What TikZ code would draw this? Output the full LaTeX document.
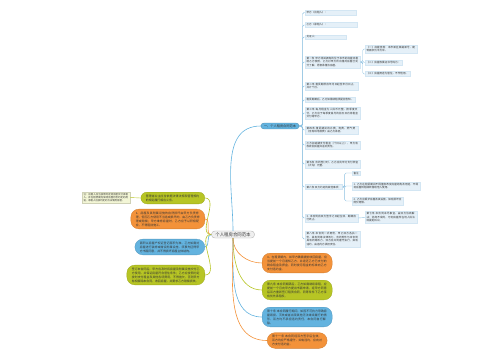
\documentclass[tikz,border=0pt]{standalone}
\usepackage{fontspec}
\setmainfont{Noto Sans CJK SC}
\XeTeXlinebreaklocale "zh"
\XeTeXlinebreakskip = 0pt plus 1pt
\usetikzlibrary{positioning, calc}
\definecolor{mmorange}{HTML}{F3923A}
\definecolor{mmgreen}{HTML}{B7C524}
\definecolor{mmblue}{HTML}{63B3DF}
\definecolor{mmleaf}{HTML}{E5F0F8}
\definecolor{mmline}{HTML}{8CC0E0}
\definecolor{mmnote}{HTML}{F3F6D6}
\definecolor{mmroot}{HTML}{EFEFEF}
\definecolor{mmtext}{HTML}{333333}

\begin{document}
\begin{tikzpicture}[x=1pt, y=-1pt,
    leafbox/.style={fill=mmleaf, draw=mmleaf!80!mmline, line width=0.2pt, anchor=west,
      align=left, inner xsep=1.5pt, inner ysep=1.2pt, text=mmtext,
      font=\fontsize{2.6}{3.5}\selectfont},
    bubble/.style={fill=#1, draw=#1!85!black, line width=0.3pt, rounded corners=8pt,
      align=left, inner xsep=5pt, inner ysep=2.5pt, text=mmtext,
      font=\fontsize{2.9}{4}\selectfont},
    twig/.style={draw=mmline, line width=0.4pt, rounded corners=1.5pt},
    limb/.style={draw=#1, line width=0.6pt}]
  \useasboundingbox (0,0) rectangle (500,360);

  % centre and main branch
  \node[fill=mmroot, draw=gray!55, rounded corners=3.5pt, inner xsep=4pt, inner ysep=1.5pt,
        text=mmtext, font=\fontsize{4.4}{5}\selectfont] (root) at (233,234.5) {个人租房合同范本};
  \node[fill=mmblue, draw=mmblue!80!black, rounded corners=3pt, inner xsep=3pt, inner ysep=1.5pt,
        text=mmtext, font=\fontsize{3.2}{4}\selectfont] (br) at (280,126) {一、个人租房合同范本};
  \coordinate (bj) at (302.5,126);

  % leaves of the main branch
  \node[leafbox, text width=48pt] (lf1) at (305,12.5) {甲方（出租人）：};
  \node[leafbox, text width=49pt] (lf2) at (305,25) {乙方（承租人）：};
  \node[leafbox, text width=38pt] (lf3) at (305,37) {见证人：};
  \node[leafbox, text width=52pt] (lf4) at (305,62) {第一条 甲方将其拥有的位于本市的房屋出租给乙方使用，乙方对甲方所出租的房屋已充分了解，愿意承租该房屋。};
  \node[leafbox, text width=50pt] (lf5) at (305,86) {第二条 租赁期限自年月日起至年月日止，共计个月。};
  \node[leafbox] (lf6) at (305,100) {租赁期满后，乙方如需续租须提前告知。};
  \node[leafbox, text width=52pt] (lf7) at (305,113) {第三条 每月租金为人民币元整，按季度支付，乙方应于每季度首月的前五日内将租金交付给甲方。};
  \node[leafbox, text width=50pt] (lf8) at (305,130) {第四条 租赁期间的水费、电费、燃气费（含有线电视费）由乙方承担。};
  \node[leafbox, text width=52pt] (lf9) at (305,145) {乙方如逾期支付租金（十日以上），甲方有权收回房屋并追究责任。};
  \node[leafbox, text width=52pt] (lf10) at (305,164) {第五条 合同签订时，乙方应向甲方支付押金（大写）元整。};
  \node[leafbox] (lf11) at (305,187) {第六条 双方约定的其他事项：};
  \node[leafbox, text width=50pt] (lf12) at (305,218) {3. 本合同自双方签字之日起生效，期满自行终止。};
  \node[leafbox, text width=52pt] (lf13) at (305,239) {第八条 本合同一式两份，甲乙双方各执一份，具有同等法律效力。合同附件与本合同具有同等效力，双方应共同遵守执行，如有违约，由违约方承担责任。};
  \foreach \n in {1,...,13}
    \draw[twig] (br.east) -- (bj) |- (lf\n.west);

  % second level
  \node[leafbox, text width=49pt] (s1) at (365,49) {（一）房屋坐落：本市某区某路某号，建筑面积为平方米。};
  \node[leafbox] (s2) at (365,62.5) {（二）房屋权属证书号码为：};
  \node[leafbox] (s3) at (365,74) {（三）房屋用途为居住，不作他用。};
  \coordinate (aj) at ($(lf4.east)+(2.5,0)$);
  \foreach \n in {1,2,3}
    \draw[twig] (lf4.east) -- (aj) |- (s\n.west);

  \node[leafbox] (t1) at (352,173) {备注};
  \node[leafbox, text width=65pt] (t2) at (352,186) {1. 乙方在租赁期间不得擅自改变房屋结构及用途，不得将房屋转租或转借给他人使用。};
  \node[leafbox, text width=48pt] (t3) at (352,201) {2. 乙方应爱护房屋及其设施，如有损坏应照价赔偿。};
  \coordinate (cj) at ($(lf11.east)+(2,0)$);
  \foreach \n in {1,2,3}
    \draw[twig] (lf11.east) -- (cj) |- (t\n.west);

  \node[leafbox, text width=49pt] (u1) at (365,217.5) {第七条 本合同未尽事宜，由双方协商解决；协商不成的，可向房屋所在地人民法院提起诉讼。};
  \draw[twig] (lf12.east) -- (u1.west);

  % left side
  \node[bubble=mmgreen, rounded corners=6pt, text width=54pt, anchor=east] (l1) at (205,198) {管理者业主应当依据法律法规和管理规约的规定履行相应义务。};
  \node[bubble=mmorange, text width=64pt, anchor=east] (l2) at (205,219) {1、房屋及其附属设施的自然损坏由甲方负责修理，但因乙方使用不当造成损坏的，由乙方负责修理或赔偿；甲方维修房屋时，乙方应予以积极配合，不得阻挠施工。};
  \node[bubble=mmblue, text width=60pt, anchor=east] (l3) at (205,247) {面积以房屋产权证登记面积为准。乙方如需对房屋进行装修或增设附属设施，须事先征得甲方书面同意，并不得损坏房屋主体结构。};
  \node[bubble=mmgreen, text width=68pt, anchor=east] (l4) at (205,275) {签订本合同后，甲方应及时将房屋及附属设施交付乙方使用，并保证房屋符合居住条件；乙方应按照约定按时支付租金及其他各项费用，不得拖欠，否则甲方有权解除本合同，收回房屋，并要求乙方赔偿损失。};
  \node[fill=mmnote, draw=mmnote!85!black, line width=0.2pt, align=left, text width=45pt,
        inner xsep=1.5pt, inner ysep=1.2pt, text=mmtext, font=\fontsize{2.4}{3.3}\selectfont]
    (nt) at (106,197.5) {注：出租人应当按照约定将房屋交付承租人，并在租赁期内保持房屋符合约定的用途，承租人应按约定的方法使用房屋。};
  \draw[draw=mmgreen, line width=0.4pt] (l1.west) -- (nt.east);

  % right side
  \node[bubble=mmorange, text width=60pt, anchor=west] (r1) at (262,263) {4、在租赁期内，如甲方确需提前收回房屋，应当提前一个月通知乙方，并退还乙方已支付的剩余租金及押金，同时按月租金的标准向乙方支付违约金。};
  \node[bubble=mmgreen, text width=60pt, anchor=west] (r2) at (262,290) {第九条 本合同期满后，乙方如需继续承租，应提前一个月向甲方提出书面申请，经甲方同意后双方重新签订租赁合同，同等条件下乙方享有优先承租权。};
  \node[bubble=mmblue, text width=60pt, anchor=west] (r3) at (262,317) {第十条 本合同履行期间，如因不可抗力导致房屋毁损、灭失或者出现其他无法继续履行的情形，双方均不承担违约责任，本合同自行解除。};
  \node[bubble=mmorange, text width=50pt, anchor=west] (r4) at (267,340.5) {第十一条 本合同经双方签字后生效，双方均应严格遵守，如有违约，应向对方支付违约金。};

  % connectors from the centre
  \draw[limb=mmblue] (root.north) to[out=90, in=180] (br.west);
  \draw[limb=mmgreen] (root.west) to[out=180, in=0] (l1.east);
  \draw[limb=mmorange] (root.west) to[out=180, in=0] (l2.east);
  \draw[limb=mmblue] (root.west) to[out=180, in=0] (l3.east);
  \draw[limb=mmgreen] (root.west) to[out=180, in=0] (l4.east);
  \draw[limb=mmorange] (root.south) to[out=-90, in=180] (r1.west);
  \draw[limb=mmgreen] (root.south) to[out=-90, in=180] (r2.west);
  \draw[limb=mmblue] (root.south) to[out=-90, in=180] (r3.west);
  \draw[limb=mmorange] (root.south) to[out=-90, in=180] (r4.west);
\end{tikzpicture}
\end{document}
